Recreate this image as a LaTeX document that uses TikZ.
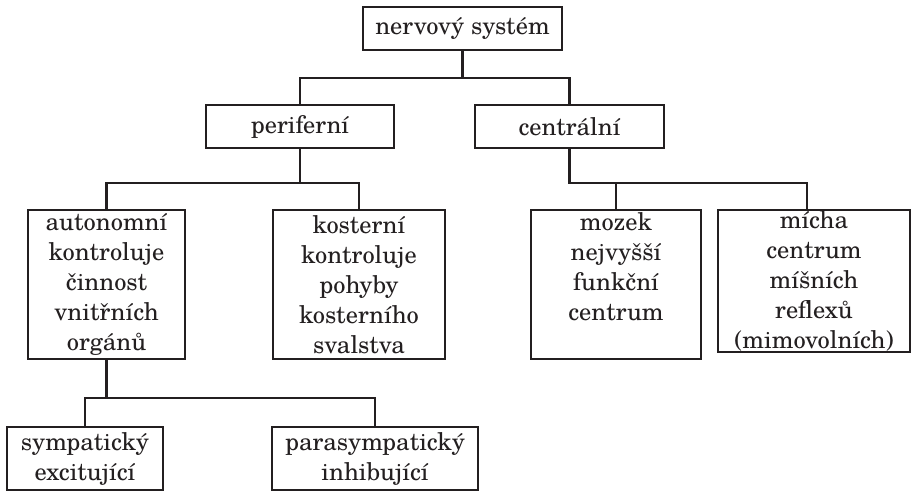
\documentclass[tikz,border=0pt]{standalone}
\usepackage{fontspec}
\setmainfont{TeX Gyre Schola}
\usepackage{xcolor}
\definecolor{nsink}{HTML}{231F20}
\tikzset{
    nsbox/.style={draw=nsink, line width=1.4pt, inner sep=0pt, align=center,
        text=nsink, font=\fontsize{12.2}{15}\selectfont},
    nslink/.style={draw=nsink, line width=1.4pt},
}

\begin{document}
\begin{tikzpicture}[x=0.5pt, y=-0.5pt]
    \useasboundingbox (0,0) rectangle (912,493);
    % boxes
    \node[nsbox, minimum width=99.5pt, minimum height=21.5pt] (sys) at (462.5,28.5) {nervový systém};
    \node[nsbox, minimum width=94pt, minimum height=21.5pt] (perif) at (300,126.5) {periferní};
    \node[nsbox, minimum width=94.5pt, minimum height=21.5pt] (centr) at (569.5,126.5) {centrální};
    \node[nsbox, minimum width=78.5pt, minimum height=74.5pt] (auton) at (106.5,284.5)
        {autonomní\\kontroluje\\činnost\\vnitřních\\orgánů};
    \node[nsbox, minimum width=86pt, minimum height=74.5pt] (koster) at (359,284.5)
        {kosterní\\kontroluje\\pohyby\\kosterního\\svalstva};
    \node[nsbox, minimum width=85pt, minimum height=74.5pt, text depth=17.5pt] (mozek) at (616,284.5)
        {mozek\\nejvyšší\\funkční\\centrum};
    \node[nsbox, minimum width=96pt, minimum height=71pt] (micha) at (814,281)
        {mícha\\centrum\\míšních\\reflexů\\(mimovolních)};
    \node[nsbox, minimum width=78pt, minimum height=31.5pt] (symp) at (85,458.5)
        {sympatický\\excitující};
    \node[nsbox, minimum width=103pt, minimum height=31.5pt] (paras) at (375,458.5)
        {parasympatický\\inhibující};

    % connectors
    \coordinate (lvlA) at (0,78);
    \coordinate (lvlB) at (0,183);
    \coordinate (lvlC) at (0,398);
    \coordinate (michatop) at ([xshift=-3.5pt]micha.north);
    \draw[nslink] (sys.south) -- (sys.south |- lvlA);
    \draw[nslink] (perif.north) |- (centr.north |- lvlA) -- (centr.north);
    \draw[nslink] (perif.south) -- (perif.south |- lvlB);
    \draw[nslink] (auton.north) |- (koster.north |- lvlB) -- (koster.north);
    \draw[nslink] (centr.south) |- (michatop |- lvlB) -- (michatop);
    \draw[nslink] (mozek.north) -- (mozek.north |- lvlB);
    \draw[nslink] (auton.south) -- (auton.south |- lvlC);
    \draw[nslink] (symp.north) |- (paras.north |- lvlC) -- (paras.north);
\end{tikzpicture}
\end{document}
